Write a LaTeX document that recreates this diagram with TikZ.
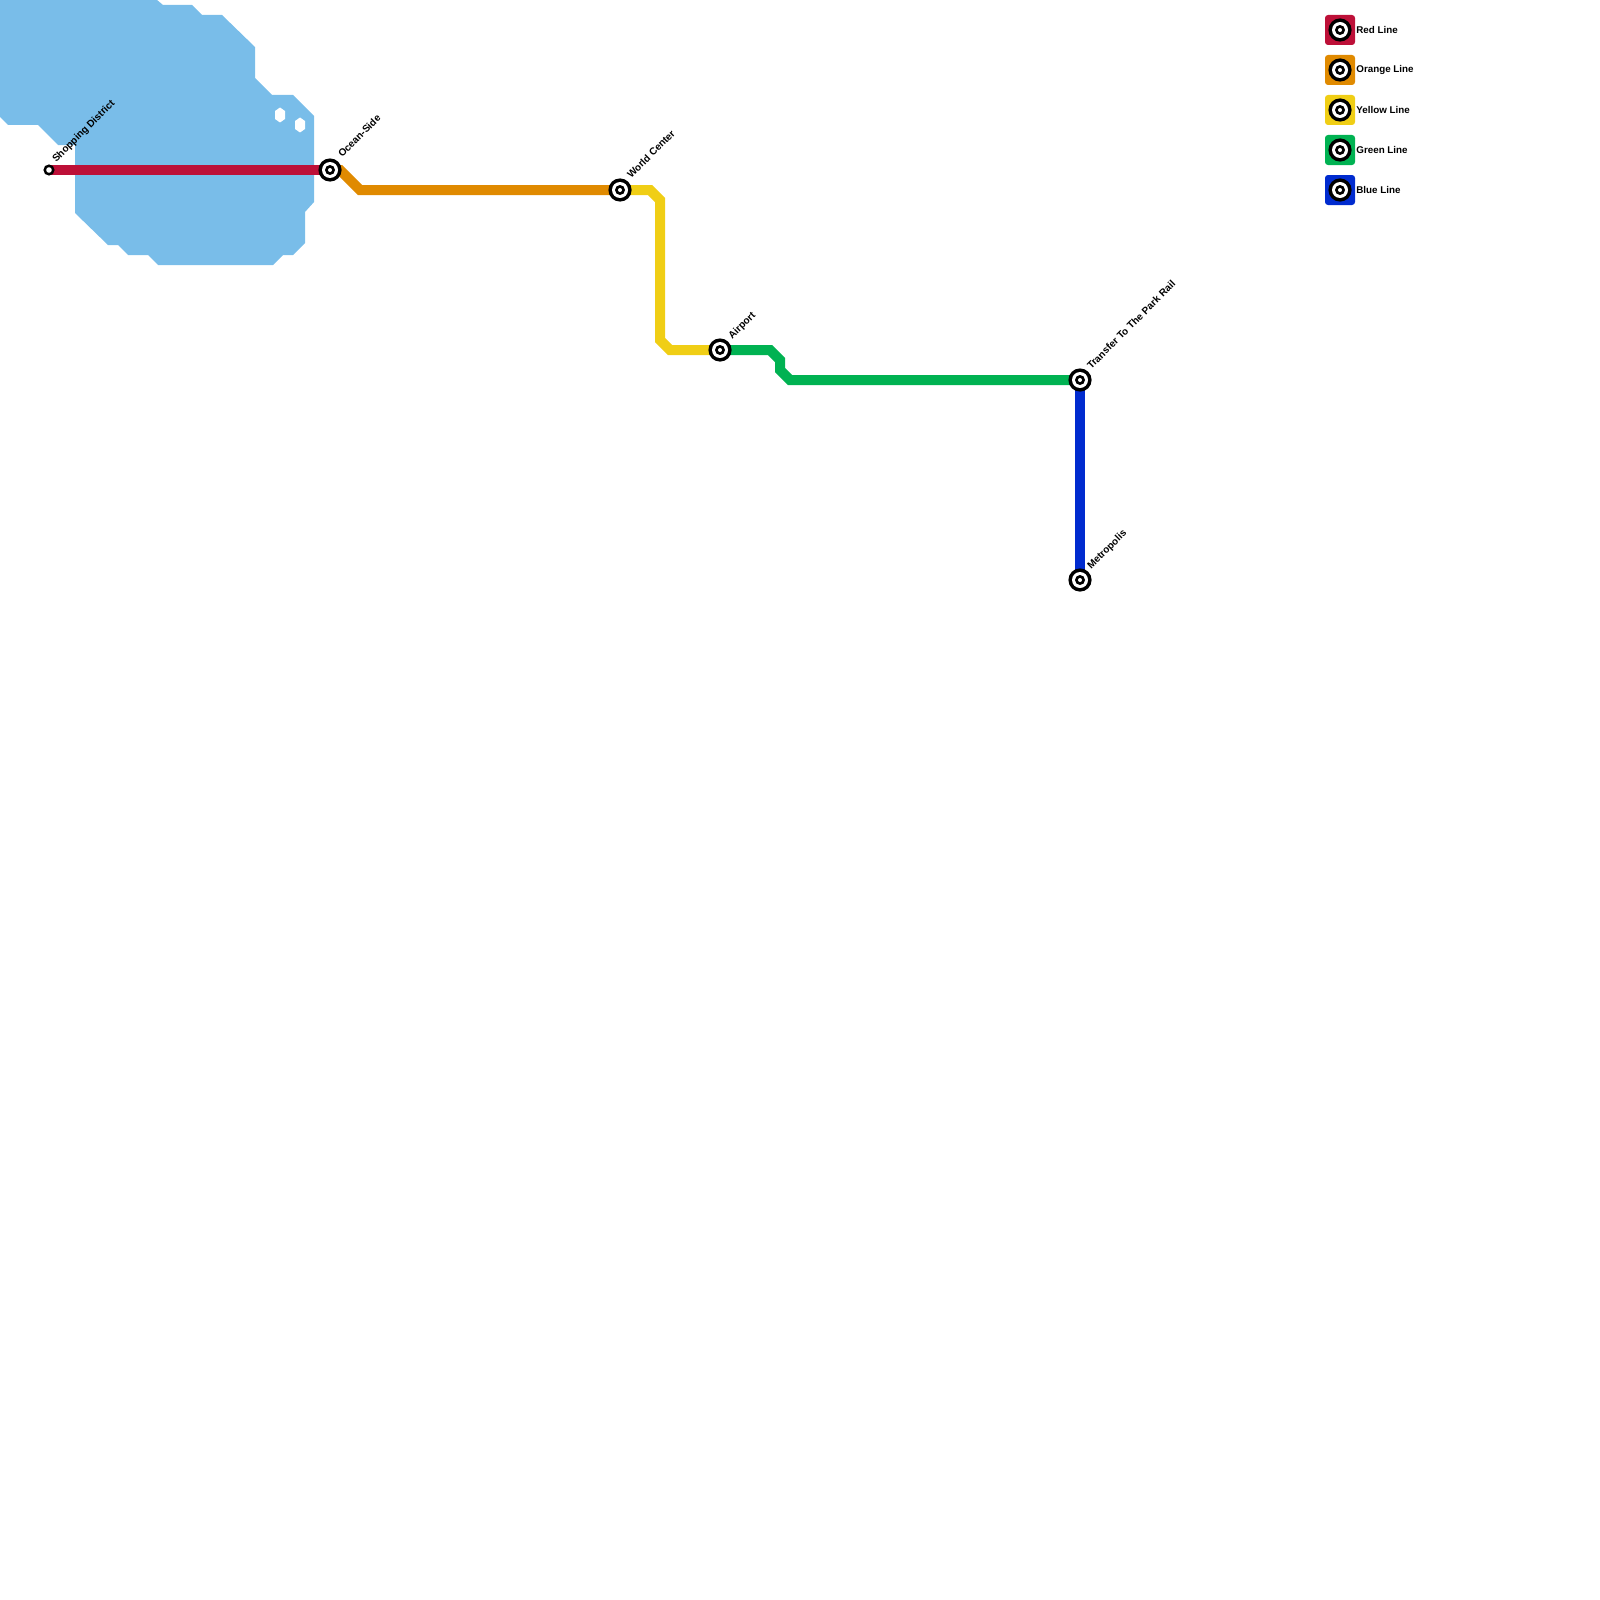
\documentclass[tikz,border=0pt]{standalone}
\usepackage{fontspec}
\setmainfont{Liberation Sans}
\usetikzlibrary{backgrounds,calc}
\definecolor{water}{RGB}{121,189,233}
\definecolor{redl}{RGB}{189,16,56}
\definecolor{orangel}{RGB}{224,138,0}
\definecolor{yellowl}{RGB}{240,206,21}
\definecolor{greenl}{RGB}{0,178,82}
\definecolor{bluel}{RGB}{0,43,207}
\tikzset{
  ix/.style={circle, inner sep=0pt, minimum size=11.6pt, fill=black,
    path picture={
      \fill[white] (path picture bounding box.center) circle (4pt);
      \fill[black] (path picture bounding box.center) circle (2.5pt);
      \fill[white] (path picture bounding box.center) circle (1pt);}},
  sm/.style={circle, inner sep=0pt, minimum size=5.6pt, fill=black,
    path picture={\fill[white] (path picture bounding box.center) circle (1.4pt);}},
  lbl/.style={anchor=base west, rotate=45, inner sep=0pt, font=\fontsize{5}{6}\selectfont\bfseries},
  leg/.style={anchor=west, inner sep=0pt, font=\fontsize{4.9}{5.9}\selectfont\bfseries},
  legbox/.style={rectangle, inner sep=0pt, minimum size=15pt, rounded corners=1.5pt},
  mline/.style={line width=5pt, line join=miter, line cap=butt},
}
\begin{document}
\begin{tikzpicture}[x=0.5pt,y=-0.5pt]
\useasboundingbox (0,0) rectangle (1600,1600);
% stations
\node[sm] (sd) at (49,170) {};
\node[ix] (os) at (330,170) {};
\node[ix] (wc) at (620,190) {};
\node[ix] (ap) at (720,350) {};
\node[ix] (tp) at (1080,380) {};
\node[ix] (mp) at (1080,580) {};
\node[lbl] (sdl) at ($(sd)+(7,-7)$) {Shopping District};
\node[lbl] (osl) at ($(os)+(12,-12)$) {Ocean-Side};
\node[lbl] (wcl) at ($(wc)+(11,-11)$) {World Center};
\node[lbl] (apl) at ($(ap)+(12,-10)$) {Airport};
\node[lbl] (tpl) at ($(tp)+(11,-10)$) {Transfer To The Park Rail};
\node[lbl] (mpl) at ($(mp)+(11,-10)$) {Metropolis};
\begin{scope}[on background layer]
% water
\fill[water] (0,0) -- (157,0) -- (163,5) -- (192,5) -- (202,15) -- (222,15) -- (255,47) -- (255,78) -- (272,95) -- (293,95) -- (314,116) -- (314,202) -- (305,212) -- (305,243) -- (293,255) -- (283,255) -- (273,265) -- (158,265) -- (148,255) -- (128,255) -- (118,245) -- (108,245) -- (75,213) -- (75,145) -- (58,145) -- (38,125) -- (8,125) -- (0,117) -- cycle;
\fill[white] (280,107.5) -- (285,111) -- (285,119) -- (280,122.5) -- (275,119) -- (275,111) -- cycle;
\fill[white] (300,117.5) -- (305,121) -- (305,129) -- (300,132.5) -- (295,129) -- (295,121) -- cycle;
% lines
\draw[mline, redl] (sd.center) -- (os.center);
\draw[mline, orangel] (os.center) -- (340,170) -- (360,190) -- (wc.center);
\draw[mline, yellowl] (wc.center) -- (650,190) -- (660,200) -- (660,340) -- (670,350) -- (ap.center);
\draw[mline, greenl] (ap.center) -- (770,350) -- (780,360) -- (780,370) -- (790,380) -- (tp.center);
\draw[mline, bluel] (tp.center) -- (mp.center);
\end{scope}
% legend
\node[legbox, fill=redl] (b1) at (1340,30) {};
\node[legbox, fill=orangel] (b2) at (1340,70) {};
\node[legbox, fill=yellowl] (b3) at (1340,110) {};
\node[legbox, fill=greenl] (b4) at (1340,150) {};
\node[legbox, fill=bluel] (b5) at (1340,190) {};
\node[ix] (s1) at (b1) {};
\node[ix] (s2) at (b2) {};
\node[ix] (s3) at (b3) {};
\node[ix] (s4) at (b4) {};
\node[ix] (s5) at (b5) {};
\node[leg] (t1) at (1356,30) {Red Line};
\node[leg] (t2) at (1356,70) {Orange Line};
\node[leg] (t3) at (1356,110) {Yellow Line};
\node[leg] (t4) at (1356,150) {Green Line};
\node[leg] (t5) at (1356,190) {Blue Line};
\end{tikzpicture}
\end{document}
